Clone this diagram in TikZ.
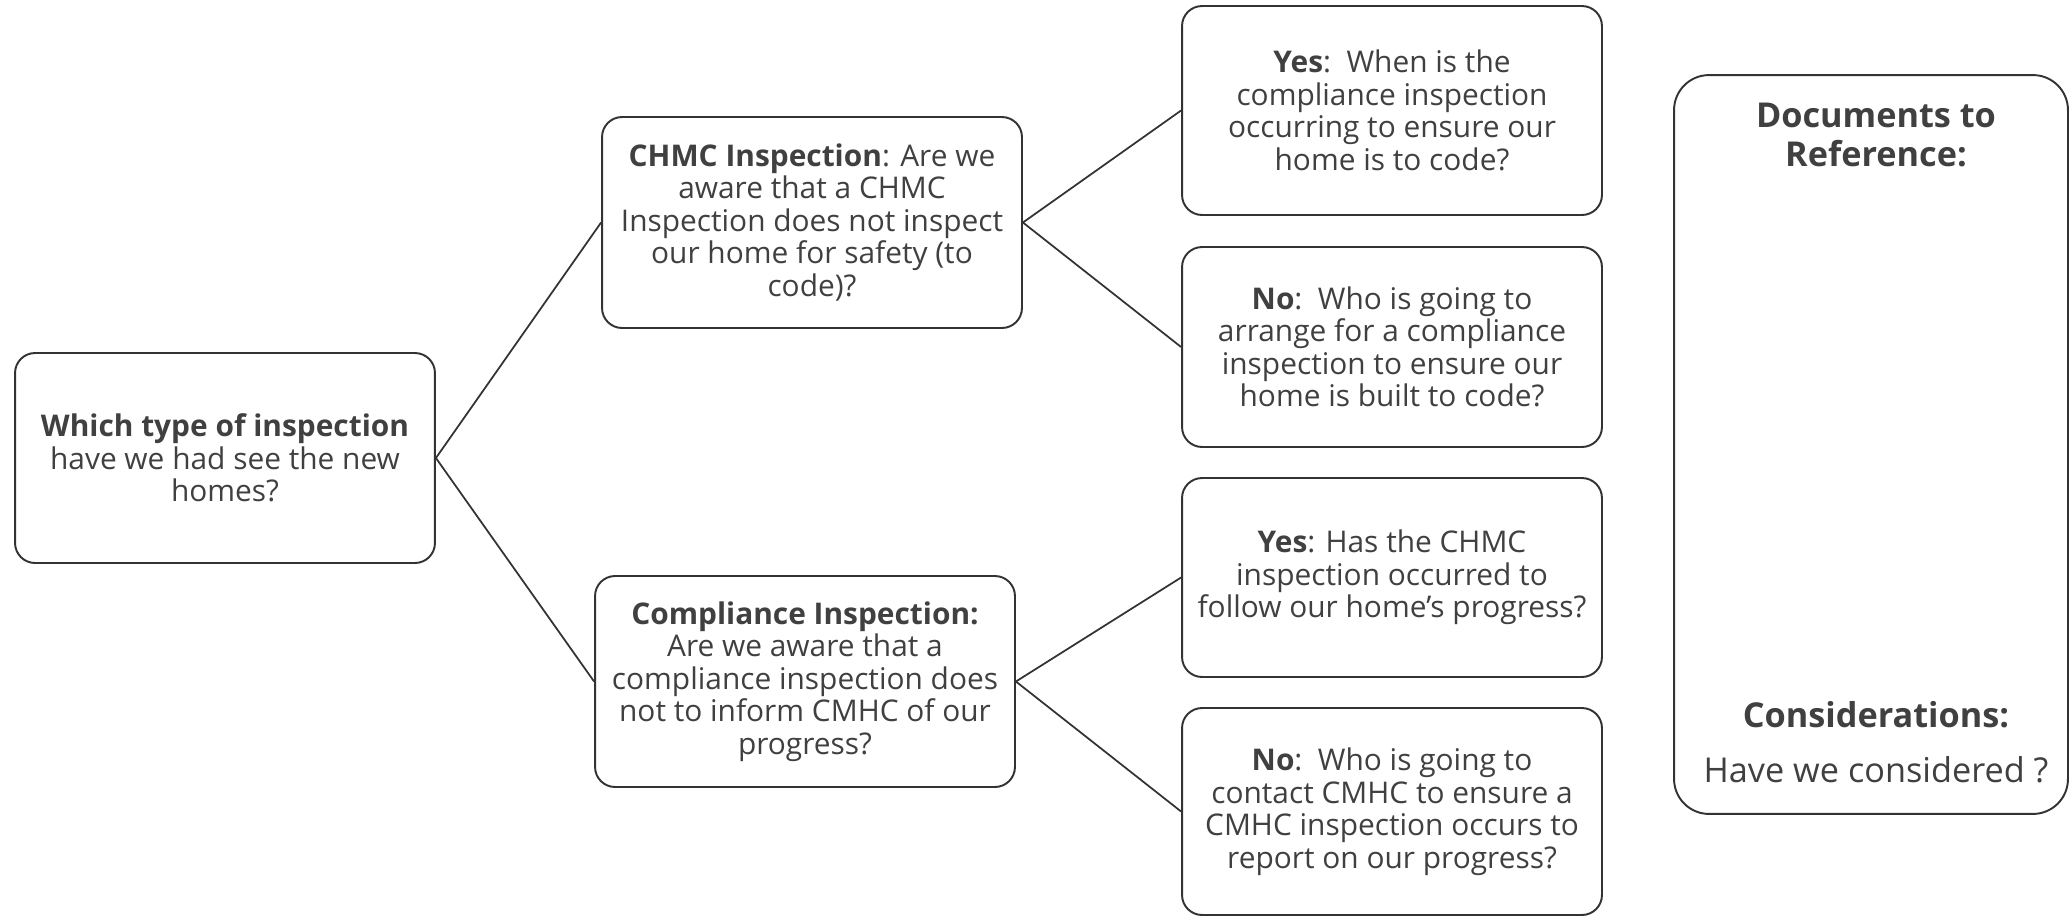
\documentclass[tikz,border=0pt]{standalone}
\usepackage{fontspec}
\setmainfont{Open Sans}
\usepackage{tikz}
\definecolor{ink}{HTML}{404040}
\definecolor{rim}{HTML}{333333}
\tikzstyle{qbox}=[draw=rim,line width=1.1pt,rounded corners=0.4cm,align=center,text=ink,minimum width=8.4cm,inner sep=0pt,font=\fontsize{17}{18.5}\selectfont]
\tikzstyle{sidebox}=[draw=rim,line width=1.1pt,rounded corners=0.7cm,minimum width=7.88cm,minimum height=14.78cm]
\tikzstyle{sidetext}=[align=center,text=ink,font=\fontsize{19.5}{22.5}\selectfont]
\tikzstyle{link}=[draw=rim,line width=1pt]

\begin{document}
\begin{tikzpicture}[x=0.02cm,y=-0.02cm]
\useasboundingbox (0,0) rectangle (2070,917);
\node[qbox,minimum height=4.2cm] (root) at (225,458)
  {\textbf{Which type of inspection}\\ have we had see the new\\ homes?};
\node[qbox,minimum height=4.22cm] (chmc) at (812,222.5)
  {\textbf{CHMC Inspection}: Are we\\ aware that a CHMC\\ Inspection does not inspect\\ our home for safety (to\\ code)?};
\node[qbox,minimum height=4.22cm] (compl) at (805,681.5)
  {\textbf{Compliance Inspection:}\\ Are we aware that a\\ compliance inspection does\\ not to inform CMHC of our\\ progress?};
\node[qbox,minimum height=4.18cm] (yes1) at (1392,110.5)
  {\textbf{Yes}:~~When is the\\ compliance inspection\\ occurring to ensure our\\ home is to code?};
\node[qbox,minimum height=4cm] (no1) at (1392,347)
  {\textbf{No}:~~Who is going to\\ arrange for a compliance\\ inspection to ensure our\\ home is built to code?};
\node[qbox,minimum height=3.98cm] (yes2) at (1392,577.5)
  {\textbf{Yes}: Has the CHMC\\ inspection occurred to\\ follow our home’s progress?};
\node[qbox,minimum height=4.14cm] (no2) at (1392,811.5)
  {\textbf{No}:~~Who is going to\\ contact CMHC to ensure a\\ CMHC inspection occurs to\\ report on our progress?};

% side panel
\node[sidebox] (side) at (1871,444.5) {};
\node[sidetext] (docs) at (1876,135) {\textbf{Documents to}\\ \textbf{Reference:}};
\node[sidetext] (cons) at (1876,742) {\textbf{Considerations:}\\[8.5pt] Have we considered ?};

\foreach \source/\dest in {root/chmc, root/compl, chmc/yes1, chmc/no1, compl/yes2, compl/no2}
  \draw[link] (\source.east) -- (\dest.west);
\end{tikzpicture}
\end{document}
